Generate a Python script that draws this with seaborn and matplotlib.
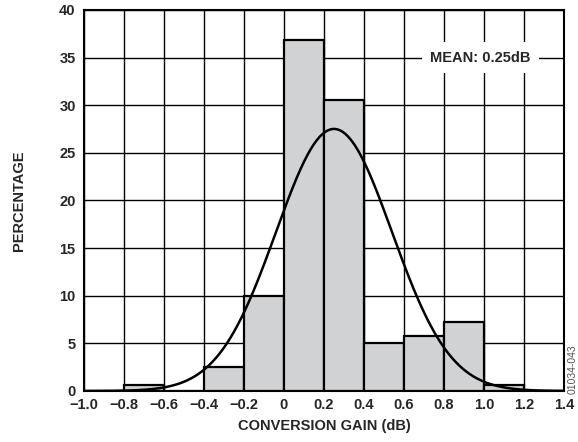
import numpy as np
import pandas as pd
import matplotlib
matplotlib.use("Agg")
import matplotlib.pyplot as plt
import seaborn as sns

# Données
bin_edges = [-1.0, -0.8, -0.6, -0.4, -0.2, 0.0, 0.2, 0.4, 0.6, 0.8, 1.0, 1.2, 1.4]
percentages = [0.0, 0.6, 0.0, 2.5, 10.0, 36.8, 30.6, 5.0, 5.8, 7.2, 0.6, 0.0]
mean_gain = 0.25
sigma_gain = 0.29
x_ticks = [-1.0, -0.8, -0.6, -0.4, -0.2, 0.0, 0.2, 0.4, 0.6, 0.8, 1.0, 1.2, 1.4]
x_labels = ["\u22121.0", "\u22120.8", "\u22120.6", "\u22120.4", "\u22120.2", "0",
            "0.2", "0.4", "0.6", "0.8", "1.0", "1.2", "1.4"]
y_ticks = [0, 5, 10, 15, 20, 25, 30, 35, 40]

sns.set_style("white")
plt.rcParams["font.family"] = ["Liberation Sans", "DejaVu Sans"]
plt.rcParams["font.weight"] = "bold"

centres = [(bin_edges[i] + bin_edges[i + 1]) / 2 for i in range(len(percentages))]
donnees = pd.DataFrame({"gain": centres, "pct": percentages})

fig = plt.figure(figsize=(5.78, 4.42), dpi=100)
ax = fig.add_axes([0.1453, 0.1154, 0.8305, 0.862])

sns.histplot(data=donnees, x="gain", weights="pct", bins=bin_edges,
             color="#d1d2d4", edgecolor="black", linewidth=1.6, alpha=1,
             ax=ax, zorder=3)

# Courbe gaussienne (aire = 100 % sur des classes de 0.2)
xs = np.linspace(-1.0, 1.4, 400)
ys = 100 * 0.2 / (sigma_gain * np.sqrt(2 * np.pi)) * np.exp(-0.5 * ((xs - mean_gain) / sigma_gain) ** 2)
sns.lineplot(x=xs, y=ys, color="black", linewidth=1.8, ax=ax, zorder=4)

ax.set_xlim(-1.0, 1.4)
ax.set_ylim(0, 40)
ax.set_xticks(x_ticks)
ax.set_xticklabels(x_labels)
ax.set_yticks(y_ticks)
ax.tick_params(length=0, labelsize=10.5)
ax.tick_params(axis="y", pad=6)
ax.tick_params(axis="x", pad=5)
for lab in ax.get_xticklabels() + ax.get_yticklabels():
    lab.set_fontweight("bold")
ax.grid(True, color="black", linewidth=1.0, zorder=1)
ax.set_axisbelow(True)
for s in ax.spines.values():
    s.set_visible(True)
    s.set_color("black")
    s.set_linewidth(1.5)

ax.set_xlabel("CONVERSION GAIN (dB)", fontsize=10.5, fontweight="bold", labelpad=5)
ax.set_ylabel("PERCENTAGE", fontsize=10.5, fontweight="bold", labelpad=24)

ax.text(0.98, 35, "MEAN: 0.25dB", fontsize=10.5, fontweight="bold", ha="center", va="center",
        bbox=dict(facecolor="white", edgecolor="none", pad=6), zorder=5)

fig.text(0.991, 0.165, "01034-043", rotation=90, fontsize=7.5, color="#555555",
         fontweight="normal", ha="center", va="center")

plt.savefig("out.png", dpi=100)
